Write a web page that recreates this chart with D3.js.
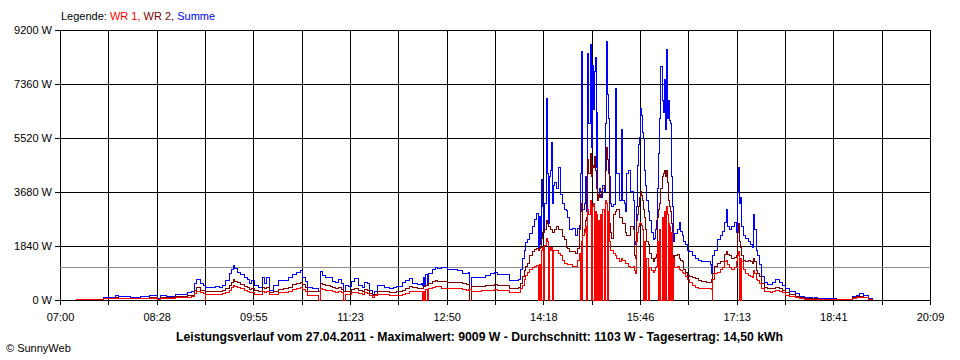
<!DOCTYPE html>
<html>
<head>
<meta charset="utf-8">
<script src="https://cdn.jsdelivr.net/npm/d3@7"></script>
<style>
  html, body { margin: 0; padding: 0; background: #fff; }
  svg { display: block; font-family: "Liberation Sans", Arial, sans-serif; }
</style>
</head>
<body>
<svg id="chart" width="960" height="360"></svg>
<script>
// ---- data ----
// minutes after 07:00
const minutes = [
  14.5,39.0,49.9,53.5,63.5,72.6,81.6,88.0,90.7,97.0,104.3,110.6,115.2,119.7,122.4,124.2,127.0,129.7,131.5,132.4,
  136.0,140.6,145.1,147.8,150.5,153.3,155.1,156.9,158.7,161.4,164.1,166.9,169.6,172.3,174.1,176.8,179.6,183.2,185.9,187.7,
  190.4,193.2,196.8,198.6,203.1,206.8,211.3,214.9,217.7,219.5,222.2,224.9,229.4,233.1,234.0,235.8,238.5,241.2,244.9,246.7,
  250.3,253.0,255.7,256.7,258.5,261.2,264.8,267.5,270.3,273.9,276.6,279.3,281.1,283.0,284.8,287.5,291.1,294.7,298.4,302.0,
  305.6,310.2,312.9,317.4,320.1,323.8,327.4,329.2,330.1,331.0,331.9,333.7,334.6,337.4,340.1,342.8,346.4,351.0,356.4,360.9,
  364.6,368.2,370.9,371.8,373.6,378.2,382.7,386.3,390.0,393.6,397.2,401.8,405.4,407.2,412.6,415.4,417.2,419.0,420.8,422.6,
  424.4,426.2,428.1,429.9,431.7,433.5,434.4,435.3,436.2,437.1,438.0,438.9,439.8,440.8,441.7,442.6,443.5,444.4,445.3,446.2,
  447.1,448.9,450.7,452.5,453.5,455.3,457.1,458.9,460.7,462.5,465.2,467.1,468.9,470.7,471.6,472.5,473.4,474.3,476.1,477.0,
  477.9,478.8,479.7,480.7,481.6,482.5,483.4,484.3,485.2,486.1,487.0,487.9,488.8,489.7,490.6,491.5,492.4,493.4,494.3,495.2,
  496.1,497.0,497.9,498.8,500.6,502.4,504.2,505.1,507.0,508.8,509.7,511.5,513.3,514.2,516.0,517.8,519.7,520.6,521.5,522.4,
  523.3,524.2,525.1,526.0,526.9,527.8,528.7,529.6,530.5,531.4,532.3,533.3,534.2,536.0,537.8,539.6,540.5,541.4,542.3,543.2,
  544.1,545.0,546.0,546.9,547.8,548.7,549.6,550.5,551.4,552.3,553.2,554.1,555.0,555.9,556.8,557.7,559.6,561.4,562.3,564.1,
  565.9,567.7,569.5,571.3,573.2,575.9,578.6,582.2,585.9,589.5,590.4,591.3,592.2,594.0,596.7,598.6,600.4,602.2,604.0,605.8,
  607.6,609.4,611.3,613.1,614.0,614.9,615.8,616.7,617.6,618.5,620.3,622.1,624.0,625.8,627.6,628.5,629.4,631.2,633.0,634.8,
  636.6,638.5,641.2,643.9,646.6,649.3,652.1,654.8,658.4,662.0,666.6,671.1,675.6,682.0,684.7,687.4,698.3,703.8,707.4,714.6,
  718.3,721.9,725.5,729.1,732.8,736.4
];
// Summe (W)
const summe = [
  24,100,160,110,100,110,150,50,140,120,200,190,260,300,560,700,550,510,330,440,
  440,450,440,500,650,900,1050,1170,1080,950,870,750,700,560,650,480,430,770,560,750,
  320,480,480,680,650,760,880,950,1020,780,620,430,400,380,290,960,850,780,750,620,
  580,700,560,300,480,450,640,720,480,420,580,560,330,180,280,500,480,440,400,440,
  470,580,680,740,560,540,560,480,780,480,880,480,900,1050,1110,1080,1100,1050,1040,1000,
  920,900,940,370,760,750,760,850,900,950,880,870,860,680,650,700,1050,1400,1700,1950,
  2050,2270,2500,2750,2950,2800,1800,2850,1900,4100,3200,2400,3300,6850,4300,2600,4200,4400,5350,3300,
  3900,4000,3800,4500,3600,3300,3100,3050,2800,2400,2450,2200,2450,2550,4300,8460,2700,3100,3300,4200,
  3000,8400,6000,8690,5200,8000,6500,7800,8250,4500,6400,3400,3600,3800,3700,3500,3900,3700,6000,8800,
  7000,6200,4200,3300,3200,3250,7200,4300,3400,5800,3400,3300,3000,4300,4400,3700,3400,1900,2000,3200,
  4600,5300,5550,6300,6540,6300,5700,5500,4400,3900,3400,3000,2700,2300,2050,2100,2400,2700,3800,5000,
  6200,7940,6800,6400,7500,5800,8520,6200,6800,6500,6100,6000,4200,3200,2000,2250,2400,2650,2350,2200,
  2000,1900,1700,1650,1500,1420,1350,1320,1300,1200,900,700,1500,1700,2050,2200,2350,2650,3070,2500,
  2400,2500,2650,2300,3700,4500,3300,3500,2950,2500,2200,2100,2000,1900,1800,2900,2400,1700,1500,1200,
  800,600,520,520,600,700,600,480,380,280,220,120,70,60,90,50,50,30,15,20,
  120,170,210,150,60,20
];
// WR 2 (W)
const wr2 = [
  10,60,75,65,60,65,80,25,80,70,110,110,150,170,330,420,340,320,310,300,
  300,300,300,330,380,500,600,700,640,580,530,470,420,360,380,320,300,420,380,430,
  260,280,300,360,380,420,520,570,600,520,430,300,280,280,280,570,520,480,460,420,
  400,430,360,300,280,280,370,400,320,300,360,340,230,140,200,300,300,280,250,270,
  290,330,380,460,420,400,400,400,460,460,500,500,550,620,650,640,620,600,600,590,
  560,530,540,0,460,450,460,500,510,540,510,510,500,400,390,410,560,800,1000,1150,
  1250,1500,1650,1720,1760,1700,1700,1750,1800,2100,2300,2300,2400,2700,2600,2500,2500,2400,2400,2300,
  2300,2400,2500,2400,2400,2150,2050,1800,1750,1650,1650,1600,1750,2400,3000,3300,2300,2200,2400,2700,
  2800,4800,4300,5000,4200,4600,4500,4900,4400,4000,3800,3400,3600,3500,3600,3700,3800,3900,4400,5180,
  4800,4300,2600,2300,2100,2900,3000,3100,2800,2800,2600,2600,2300,2200,2200,2500,2400,1500,1400,2700,
  2900,3200,3500,3650,3700,3550,3400,3100,2800,2400,2000,1900,1600,1400,1300,1400,1450,1550,2800,3100,
  3300,3800,4200,4300,4400,4200,4400,4000,3400,3300,3200,3000,2600,1500,1400,1500,1550,1400,1350,1300,
  1050,950,850,800,760,720,650,620,600,600,700,700,900,1150,1250,1300,1300,1550,1650,1550,
  1500,1400,1450,1500,2300,2600,2000,1800,1600,1500,1350,1300,1350,1300,1250,1400,1300,1000,900,800,
  550,420,400,380,400,420,380,320,250,180,130,80,40,30,40,25,25,15,8,10,
  80,110,130,90,30,10
];
// WR 1 (W)
const wr1 = [
  10,40,50,45,40,45,55,15,50,50,70,75,95,120,220,300,250,230,0,190,
  190,190,190,220,260,340,420,490,450,420,380,330,300,250,270,200,180,300,260,300,
  180,190,200,240,260,290,350,400,410,350,280,170,170,160,0,400,370,340,320,290,
  270,290,250,0,200,200,240,240,220,200,240,230,160,100,150,180,190,180,150,160,
  170,200,230,300,290,280,280,0,300,0,350,0,380,440,470,460,400,390,390,380,
  360,340,350,350,300,300,310,330,340,360,340,340,330,270,250,270,400,500,700,850,
  950,1050,1100,1150,1160,1130,0,1200,0,1700,1800,0,1850,2100,2000,0,1800,1700,1800,0,
  1700,1700,1700,1600,1500,1350,1250,1250,1200,1200,1150,1150,1350,1600,0,2000,0,2200,2300,2500,
  0,3100,2900,3400,0,3200,3300,0,3000,0,2900,0,2700,0,2900,0,3100,0,3400,3300,
  0,3000,2000,1700,1700,1600,1500,1400,1300,1400,1350,1350,1250,1250,1150,1100,1150,1000,900,2000,
  2300,2500,2600,2650,2600,2550,2400,0,2000,0,1400,0,1100,1000,950,1000,1100,1150,2000,0,
  2400,0,2800,0,3000,0,3200,2900,0,2600,2500,0,2300,0,1400,1100,1150,1050,1000,950,
  900,800,700,600,500,420,400,400,380,380,350,0,700,900,950,1050,1100,1300,1350,1200,
  1100,1050,1100,1300,1500,1650,0,1400,0,1300,1050,900,850,800,750,1000,900,700,650,560,
  400,300,280,270,300,320,290,250,160,120,90,50,25,20,25,15,15,10,5,5,
  60,80,90,70,25,5
];
const average = 1103;                         // Durchschnitt (W)
const yTicks = [0, 1840, 3680, 5520, 7360, 9200];
const xTickLabels = ["07:00","08:28","09:55","11:23","12:50","14:18","15:46","17:13","18:41","20:09"];
const spanMinutes = 789;                      // 07:00 .. 20:09
const title = "Leistungsverlauf vom 27.04.2011 - Maximalwert: 9009 W - Durchschnitt: 1103 W - Tagesertrag: 14,50 kWh";

// ---- chart ----
const svg = d3.select("#chart");
const L = 60, R = 930, T = 30, B = 300;
const x = d3.scaleLinear().domain([0, spanMinutes]).range([L, R]);
const y = d3.scaleLinear().domain([0, 9200]).range([B, T]);

svg.append("rect").attr("width", 960).attr("height", 360).attr("fill", "#fff");

// vertical grid (18 columns), labelled every second line
const gridX = d3.range(0, 19).map(i => i * spanMinutes / 18);
const xAxis = d3.axisBottom(x)
  .tickValues(gridX)
  .tickSizeInner(-(B - T + 5))
  .tickSizeOuter(0)
  .tickPadding(8)
  .tickFormat((d, i) => (i % 2 === 0 ? xTickLabels[i / 2] : ""));
const gx = svg.append("g").attr("transform", `translate(0,${B + 5})`).call(xAxis);
gx.select(".domain").remove();
gx.selectAll("line").attr("stroke", "#000").attr("shape-rendering", "crispEdges");
gx.selectAll("text").attr("fill", "#000").attr("font-size", 11).attr("font-family", "Liberation Sans, Arial, sans-serif");

// horizontal grid
const yAxis = d3.axisLeft(y)
  .tickValues(yTicks)
  .tickSizeInner(-(R - L + 5))
  .tickSizeOuter(0)
  .tickPadding(3)
  .tickFormat(d => d + " W");
const gy = svg.append("g").attr("transform", `translate(${L - 5},0)`).call(yAxis);
gy.select(".domain").remove();
gy.selectAll("line").attr("stroke", "#000").attr("shape-rendering", "crispEdges");
gy.selectAll("text").attr("fill", "#000").attr("font-size", 11).attr("font-family", "Liberation Sans, Arial, sans-serif");

// average line
svg.append("line")
  .attr("x1", L).attr("x2", R)
  .attr("y1", y(average)).attr("y2", y(average))
  .attr("stroke", "#8c8c8c").attr("shape-rendering", "crispEdges");

// series
const series = [
  { name: "Summe", values: summe, color: "#0000ff" },
  { name: "WR 2", values: wr2, color: "#800000" },
  { name: "WR 1", values: wr1, color: "#ff0000" }
];
const line = d3.line()
  .x(d => x(d[0]))
  .y(d => y(d[1]))
  .curve(d3.curveStepAfter);
series.forEach(s => {
  svg.append("path")
    .datum(minutes.map((m, i) => [m, s.values[i]]))
    .attr("d", line)
    .attr("fill", "none")
    .attr("stroke", s.color)
    .attr("stroke-width", 1)
    .attr("shape-rendering", "crispEdges");
});

// legend
const leg = svg.append("text").attr("x", 61).attr("y", 20).attr("font-size", 11);
leg.append("tspan").attr("fill", "#000").text("Legende: ");
leg.append("tspan").attr("fill", "#ff0000").text("WR 1, ");
leg.append("tspan").attr("fill", "#800000").text("WR 2, ");
leg.append("tspan").attr("fill", "#0000ff").text("Summe");

// title
svg.append("text")
  .attr("x", 479.5).attr("y", 341)
  .attr("text-anchor", "middle")
  .attr("font-size", 12).attr("font-weight", "bold")
  .attr("textLength", 607).attr("lengthAdjust", "spacingAndGlyphs")
  .attr("fill", "#000")
  .text(title);

// copyright
svg.append("text")
  .attr("x", 6).attr("y", 352)
  .attr("font-size", 11).attr("fill", "#000")
  .text("\u00A9 SunnyWeb");
</script>
</body>
</html>
